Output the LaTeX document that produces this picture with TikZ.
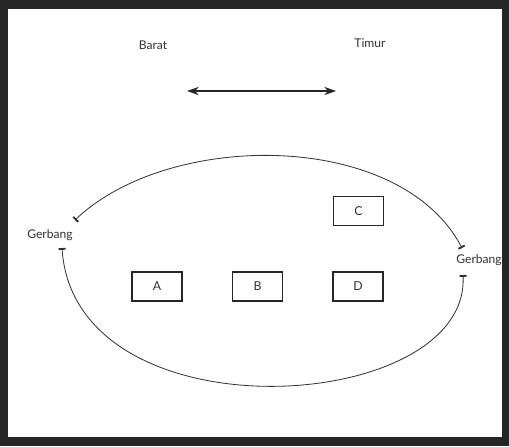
\documentclass[tikz,border=0pt]{standalone}
\usepackage{fontspec}
\setmainfont{Lato}
\usetikzlibrary{arrows.meta}
\begin{document}
\begin{tikzpicture}[x=0.03cm,y=-0.03cm,
  lbl/.style={font=\fontsize{10.3}{11}\selectfont, text=black!80, inner sep=0pt},
  box/.style={draw=black!85, line width=0.9pt, minimum width=50*0.03cm, minimum height=29*0.03cm, inner sep=0pt, font=\fontsize{10.5}{11}\selectfont, text=black!80},
  curve/.style={draw=black!80, line width=0.7pt, {Bar[width=6pt,line width=1.6pt]}-{Bar[width=6pt,line width=1.6pt]}},
  dir/.style={draw=black!85, line width=1.4pt, {Stealth[length=10pt,width=7pt]}-{Stealth[length=10pt,width=7pt]}}]
\useasboundingbox (0,0) rectangle (509,446);
\fill[black!85] (0,0) rectangle (509,446);
\fill[white] (8,9) rectangle (502,437);
% labels
\node[lbl] (barat) at (153,45) {Barat};
\node[lbl] (timur) at (370,43) {Timur};
\coordinate (w) at (187,91);
\coordinate (e) at (336,91);
\draw[dir] (w) -- (e);
% boxes
\node[box] (C) at (358.5,211) {C};
\node[box] (A) at (157,286.5) {A};
\node[box] (B) at (257.5,286.5) {B};
\node[box] (D) at (358,286.5) {D};
% gates
\node[lbl] (gl) at (50,235) {Gerbang};
\node[lbl] (gr) at (479,260) {Gerbang};
\coordinate (gltop) at (75,220);
\coordinate (glbot) at (62,248);
\coordinate (grtop) at (462,248);
\coordinate (grbot) at (463,275);
\draw[curve] (grtop) .. controls (400,130) and (170,130) .. (gltop);
\draw[curve] (glbot) .. controls (75,440) and (470,415) .. (grbot);
\end{tikzpicture}
\end{document}
